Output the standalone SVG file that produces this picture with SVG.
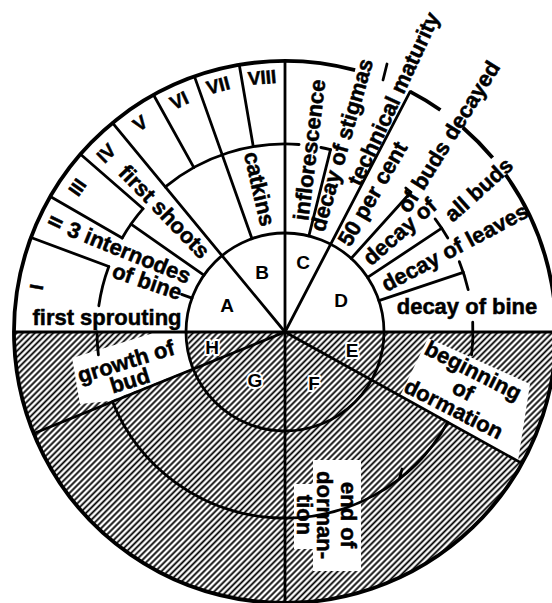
<svg xmlns="http://www.w3.org/2000/svg" width="552" height="603" viewBox="0 0 552 603">
<defs>
<pattern id="hatch" patternUnits="userSpaceOnUse" width="4.3" height="10" patternTransform="rotate(45)">
<line x1="2.15" y1="0" x2="2.15" y2="10" stroke="#000" stroke-width="1.8"/>
</pattern>
</defs>
<style>
.ln{stroke:#000;stroke-width:2.8;fill:none;stroke-linecap:round}
.outer{stroke:#000;stroke-width:3.8;fill:none}
.wb{fill:#fff;stroke:none}
.t{font-family:"Liberation Sans",Arial,sans-serif;font-weight:bold;font-size:22px;fill:#000;text-anchor:middle;stroke:#000;stroke-width:0.5}
.num{font-size:19px}
.let{font-size:19px;stroke:#fff;stroke-width:4;paint-order:stroke;stroke-linejoin:round}
</style>
<rect width="552" height="603" fill="#fff"/>
<g id="hatching">
<path d="M14,332 A271,271 0 0 0 556,332 Z" fill="url(#hatch)"/>
<polygon class="wb" points="72,358 160,331 187,331 191,369 110,401 80,404"/>
<polygon class="wb" points="428,338 530,384 518,461 400,396"/>
<polygon class="wb" points="294,484 313,484 313,460 361,460 361,571 313,571 313,549 294,549"/>
</g>
<g id="connectors">
<path class="outer" d="M355.1,70.2 A271,271 0 1 0 505.6,174.6"/>
<path class="outer" d="M410.1,91.6 A271,271 0 0 1 440.4,110"/>
<path class="outer" d="M462.8,127.5 A271,271 0 0 1 492.6,157.8"/>
<circle class="ln" cx="285" cy="332" r="99"/>
<path class="ln" d="M165.3,186.9 A188,188 0 0 1 299.1,144.5"/>
<path class="ln" d="M108.8,266.5 A188,188 0 0 0 98.8,305.8"/>
<path class="ln" d="M97,332 A188,188 0 0 0 98.4,354.9"/>
<path class="ln" d="M143.1,208.7 A188,188 0 0 0 122.2,238"/>
<path class="ln" d="M330.5,149.6 A188,188 0 0 0 320.9,147.5"/>
<path class="ln" d="M410.8,192.3 A188,188 0 0 0 405.8,188"/>
<path class="ln" d="M447.8,238 A188,188 0 0 0 435.1,218.9"/>
<path class="ln" d="M468.2,289.7 A188,188 0 0 0 459.3,261.6"/>
<path class="ln" d="M472.7,322.2 A188,188 0 0 1 471.6,354.9"/>
<path class="ln" d="M112.5,401.7 A186,186 0 0 0 447.7,422.2"/>
<path class="ln" d="M399.5,478.6 L402,469"/>
<line class="ln" x1="14" y1="332" x2="556" y2="332"/>
<line class="ln" x1="285" y1="61" x2="285" y2="603"/>
<line class="ln" x1="31" y1="237.5" x2="108.8" y2="266.5"/>
<line class="ln" x1="50.3" y1="196.5" x2="122.2" y2="238"/>
<line class="ln" x1="80.5" y1="154.2" x2="143.1" y2="208.7"/>
<line class="ln" x1="112.5" y1="122.9" x2="285" y2="332"/>
<line class="ln" x1="153.6" y1="95" x2="193.9" y2="167.6"/>
<line class="ln" x1="194.5" y1="76.6" x2="252" y2="238.7"/>
<line class="ln" x1="239.3" y1="64.9" x2="253.3" y2="146.7"/>
<line class="ln" x1="131" y1="224.2" x2="203.9" y2="275.2"/>
<line class="ln" x1="192" y1="298.1" x2="181.6" y2="294.4"/>
<line class="ln" x1="330.5" y1="149.6" x2="308.9" y2="235.9"/>
<line class="ln" x1="285" y1="332" x2="410.1" y2="91.6"/>
<line class="ln" x1="410.8" y1="192.3" x2="351.2" y2="258.4"/>
<line class="ln" x1="441.8" y1="228.2" x2="367.6" y2="277.4"/>
<line class="ln" x1="463.3" y1="272.3" x2="378.9" y2="300.6"/>
<line class="ln" x1="285" y1="332" x2="33.7" y2="433.5"/>
<line class="ln" x1="285" y1="332" x2="522" y2="463.4"/>
<line class="ln" x1="387" y1="64" x2="383" y2="80"/>
</g>
<g id="numerals">
<text class="t num" transform="translate(36,287) rotate(-80)" y="7">I</text>
<text class="t num" transform="translate(55,222) rotate(-64)" y="7">II</text>
<text class="t num" transform="translate(77,187) rotate(-55)" y="7">III</text>
<text class="t num" transform="translate(106,153) rotate(-45)" y="7">IV</text>
<text class="t num" transform="translate(140,123) rotate(-35)" y="7">V</text>
<text class="t num" transform="translate(179,100) rotate(-25)" y="7">VI</text>
<text class="t num" transform="translate(218,85) rotate(-15)" y="7">VII</text>
<text class="t num" transform="translate(262,77) rotate(-5)" y="7">VIII</text>
</g>
<g id="letters">
<text class="t let" x="227" y="312">A</text>
<text class="t let" x="262" y="279">B</text>
<text class="t let" x="303" y="269">C</text>
<text class="t let" x="341" y="307">D</text>
<text class="t let" x="352" y="357">E</text>
<text class="t let" x="314" y="390">F</text>
<text class="t let" x="255" y="387">G</text>
<text class="t let" x="212" y="354">H</text>
</g>
<g id="label-first-sprouting"><text class="t" x="107" y="325">first sprouting</text></g>
<g id="label-internodes">
<text class="t" transform="translate(129,253) rotate(22)" y="7">3 internodes</text>
<text class="t" transform="translate(147,282) rotate(19)" y="7">of bine</text>
</g>
<g id="label-first-shoots"><text class="t" transform="translate(164,212) rotate(46)" y="7">first shoots</text></g>
<g id="label-catkins"><text class="t" transform="translate(259,189) rotate(77)" y="7">catkins</text></g>
<g id="label-inflorescence"><text class="t" transform="translate(310,150) rotate(-83)" y="7">inflorescence</text></g>
<g id="label-stigmas"><text class="t" transform="translate(342,145) rotate(-74)" y="7">decay of stigmas</text></g>
<g id="label-maturity"><text class="t" transform="translate(394,99) rotate(-65)" y="7">technical maturity</text></g>
<g id="label-buds-decayed">
<text class="t" transform="translate(373,194) rotate(-60)" y="7">50 per cent</text>
<text class="t" transform="translate(449,137) rotate(-58)" y="7">of buds decayed</text>
</g>
<g id="label-all-buds">
<text class="t" transform="translate(400,232) rotate(-41)" y="7">decay of</text>
<text class="t" transform="translate(479,190) rotate(-42)" y="7">all buds</text>
</g>
<g id="label-leaves"><text class="t" transform="translate(455,248) rotate(-28)" y="7">decay of leaves</text></g>
<g id="label-bine"><text class="t" x="467" y="314">decay of bine</text></g>
<g id="label-beginning-dormation">
<text class="t" transform="translate(473,371) rotate(27)" y="7">beginning</text>
<text class="t" transform="translate(473,371) rotate(27)" y="29">of</text>
<text class="t" transform="translate(473,371) rotate(27)" y="50">dormation</text>
</g>
<g id="label-end-dormation">
<text class="t" transform="translate(348,515) rotate(90)" y="7">end of</text>
<text class="t" transform="translate(348,515) rotate(90)" y="31">dorman-</text>
<text class="t" transform="translate(348,515) rotate(90)" y="51">tion</text>
</g>
<g id="label-growth-bud">
<text class="t" transform="translate(126,362) rotate(-17)" y="7">growth of</text>
<text class="t" transform="translate(130,381) rotate(-17)" y="7">bud</text>
</g>
</svg>
